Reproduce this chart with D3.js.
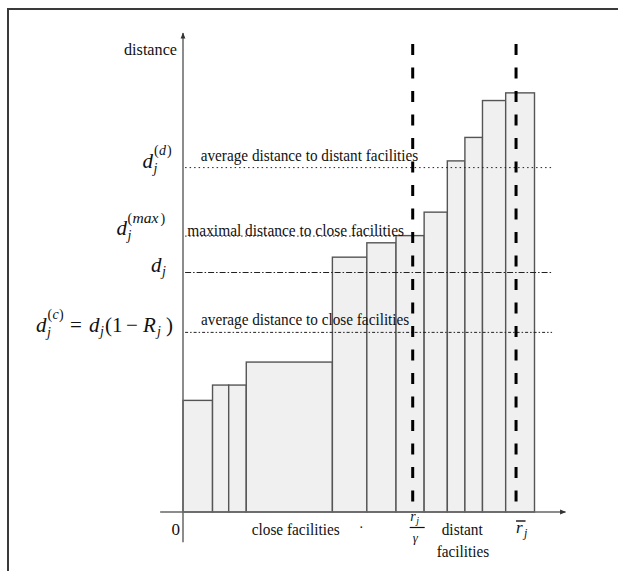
<!DOCTYPE html>
<html>
<head>
<meta charset="utf-8">
<script src="https://cdn.jsdelivr.net/npm/d3@7"></script>
<style>
  body { margin: 0; background: #fff; }
  svg { display: block; }
  text { font-family: "Liberation Serif", "Times New Roman", serif; fill: #111; }
  .it { font-style: italic; }
</style>
</head>
<body>
<div id="chart"></div>
<script>
// facility boundaries (x, share of facilities) and their distances (bar heights)
const barEdges = [0, 8.4, 13.0, 18.0, 42.5, 52.3, 60.6, 68.6, 75.2, 80.2, 85.2, 91.8, 100];
const barHeights = [23.3, 26.5, 26.5, 31.3, 53.2, 56.2, 57.7, 62.6, 73.3, 78.2, 85.9, 87.5];

// reference distance levels
const levelNames = ["dd", "dmax", "dj", "dc"];
const levelValues = [71.9, 57.6, 50.0, 37.5];
const levelEnds = [105, 60.6, 105, 105];      // x where each level line stops
const levelDash = ["1.5,3", "1.5,2.5", "6,2,1.5,2", "3,2,1.5,2"];
const levelTexts = ["average distance to distant facilities", "maximal distance to close facilities", "", "average distance to close facilities"];

// vertical thresholds r_j/gamma and r_j bar
const thresholds = [65.35, 94.75];

document.addEventListener('DOMContentLoaded', function(){

	const w = 618, h = 571;

	const xScale = d3.scaleLinear().domain([0, 100]).range([183, 534.5]);
	const yScale = d3.scaleLinear().domain([0, 100]).range([512, 33]);

	const svg = d3.select("#chart")
				  .append("svg")
				  .attr("width", w)
				  .attr("height", h);

	svg.append("defs").append("marker")
	   .attr("id", "arrow")
	   .attr("viewBox", "0 0 10 10")
	   .attr("refX", 9).attr("refY", 5)
	   .attr("markerWidth", 9).attr("markerHeight", 6)
	   .attr("markerUnits", "userSpaceOnUse")
	   .attr("orient", "auto")
	   .append("path")
	   .attr("d", "M0,1 L10,5 L0,9 Z")
	   .attr("fill", "#333");

	//frame
	svg.append("path")
	   .attr("d", "M8," + h + " L8,9 L" + w + ",9")
	   .attr("fill", "none")
	   .attr("stroke", "#3a3a3a")
	   .attr("stroke-width", 2);

	//bars
	svg.selectAll("rect.bar")
	   .data(barHeights)
	   .enter()
	   .append("rect")
	   .attr("class", "bar")
	   .attr("x", (d, i) => xScale(barEdges[i]))
	   .attr("y", (d) => yScale(d))
	   .attr("width", (d, i) => xScale(barEdges[i + 1]) - xScale(barEdges[i]))
	   .attr("height", (d) => yScale(0) - yScale(d))
	   .attr("fill", "#f0f0f0")
	   .attr("stroke", "#555")
	   .attr("stroke-width", 1.4);

	//axes
	svg.append("line")
	   .attr("x1", xScale(-6.5)).attr("x2", xScale(108.8))
	   .attr("y1", yScale(0)).attr("y2", yScale(0))
	   .attr("stroke", "#666").attr("stroke-width", 1.5)
	   .attr("marker-end", "url(#arrow)");

	svg.append("line")
	   .attr("x1", xScale(0)).attr("x2", xScale(0))
	   .attr("y1", yScale(-6.3)).attr("y2", yScale(100))
	   .attr("stroke", "#666").attr("stroke-width", 1.5)
	   .attr("marker-end", "url(#arrow)");

	//level lines
	svg.selectAll("line.level")
	   .data(levelValues)
	   .enter()
	   .append("line")
	   .attr("class", "level")
	   .attr("x1", xScale(0.6))
	   .attr("x2", (d, i) => xScale(levelEnds[i]))
	   .attr("y1", (d) => yScale(d))
	   .attr("y2", (d) => yScale(d))
	   .attr("stroke", "#222")
	   .attr("stroke-width", 1)
	   .attr("stroke-dasharray", (d, i) => levelDash[i]);

	//level texts
	const textPos = [[200.7, 160.7, 217.6], [187.3, 236, 216.7], null, [201, 325, 208.3]];
	const notes = d3.range(levelTexts.length).filter((i) => levelTexts[i] !== "");
	svg.selectAll("text.note")
	   .data(notes)
	   .enter()
	   .append("text")
	   .attr("class", "note")
	   .attr("x", (i) => textPos[i][0])
	   .attr("y", (i) => textPos[i][1])
	   .attr("font-size", 17)
	   .attr("textLength", (i) => textPos[i][2])
	   .attr("lengthAdjust", "spacingAndGlyphs")
	   .text((i) => levelTexts[i]);

	//dashed thresholds
	svg.selectAll("line.thr")
	   .data(thresholds)
	   .enter()
	   .append("line")
	   .attr("class", "thr")
	   .attr("x1", (d) => xScale(d)).attr("x2", (d) => xScale(d))
	   .attr("y1", 33).attr("y2", yScale(0))
	   .attr("stroke", "#000")
	   .attr("stroke-width", 3)
	   .attr("stroke-dasharray", "11,12.5")
	   .attr("stroke-dashoffset", 12.5);

	//left math labels
	function piece(g, str, x, y, size, italic, len) {
		const t = g.append("text")
		 .attr("x", x).attr("y", y)
		 .attr("font-size", size)
		 .attr("class", italic ? "it" : null)
		 .text(str);
		if (len) t.attr("textLength", len).attr("lengthAdjust", "spacingAndGlyphs");
	}

	let g = svg.append("g").attr("transform", "translate(142.5," + (yScale(levelValues[0]) + 0.6) + ")");
	piece(g, "d", 0, 0, 21, true);
	piece(g, "(", 11.5, -13, 14, false);
	piece(g, "d", 16.5, -13, 14, true);
	piece(g, ")", 24.5, -13, 14, false);
	piece(g, "j", 11, 5, 14, true);

	g = svg.append("g").attr("transform", "translate(116.5," + (yScale(levelValues[1]) - 1) + ")");
	piece(g, "d", 0, 0, 21, true);
	piece(g, "(", 11, -12, 14, false);
	piece(g, "max", 16, -12, 15, true, 26);
	piece(g, ")", 44, -12, 14, false);
	piece(g, "j", 11, 5, 14, true);

	g = svg.append("g").attr("transform", "translate(151," + (yScale(levelValues[2]) - 1) + ")");
	piece(g, "d", 0, 0, 21, true);
	piece(g, "j", 11, 4, 14, true);

	g = svg.append("g").attr("transform", "translate(36," + (yScale(levelValues[3]) - 0.6) + ")");
	piece(g, "d", 0, 0, 21, true);
	piece(g, "(", 11.5, -13, 14, false);
	piece(g, "c", 16.5, -13, 14, true);
	piece(g, ")", 23, -13, 14, false);
	piece(g, "j", 11, 5, 14, true);
	piece(g, "=", 34, 0, 21, false);
	piece(g, "d", 53, 0, 21, true);
	piece(g, "j", 64, 4, 14, true);
	piece(g, "(", 69, 0, 21, false);
	piece(g, "1", 76, 0, 21, false);
	piece(g, "\u2212", 90, 0, 21, false);
	piece(g, "R", 107, 0, 21, true);
	piece(g, "j", 121, 4, 14, true);
	piece(g, ")", 130, 0, 21, false);

	//axis label
	svg.append("text")
	   .attr("x", 124).attr("y", 55)
	   .attr("font-size", 17)
	   .attr("textLength", 53)
	   .attr("lengthAdjust", "spacingAndGlyphs")
	   .text("distance");

	//bottom labels
	svg.append("text").attr("x", 171.5).attr("y", 534.5).attr("font-size", 17).text("0");
	svg.append("text")
	   .attr("x", 251.7).attr("y", 535)
	   .attr("font-size", 17)
	   .attr("textLength", 88)
	   .attr("lengthAdjust", "spacingAndGlyphs")
	   .text("close facilities");
	svg.append("text").attr("x", 359.5).attr("y", 528).attr("font-size", 14).text(".");

	svg.append("text")
	   .attr("x", 441.7).attr("y", 535)
	   .attr("font-size", 17)
	   .attr("textLength", 41)
	   .attr("lengthAdjust", "spacingAndGlyphs")
	   .text("distant");
	svg.append("text")
	   .attr("x", 436.7).attr("y", 557)
	   .attr("font-size", 17)
	   .attr("textLength", 52.6)
	   .attr("lengthAdjust", "spacingAndGlyphs")
	   .text("facilities");

	// r_j / gamma
	const fx = xScale(thresholds[0]);
	g = svg.append("g").attr("transform", "translate(" + fx + ",0)");
	piece(g, "r", -2.5, 521, 14, true);
	piece(g, "j", 3.5, 524, 10, true);
	g.append("line").attr("x1", -3).attr("x2", 12).attr("y1", 527.5).attr("y2", 527.5)
	 .attr("stroke", "#111").attr("stroke-width", 1.2);
	piece(g, "\u03b3", 0, 542, 13, true);

	// r bar j
	const rx = xScale(thresholds[1]);
	g = svg.append("g").attr("transform", "translate(" + rx + ",0)");
	g.append("line").attr("x1", 0).attr("x2", 9.5).attr("y1", 521).attr("y2", 521)
	 .attr("stroke", "#111").attr("stroke-width", 1.4);
	piece(g, "r", 0, 533, 17, true);
	piece(g, "j", 8, 537, 12, true);
});
</script>
</body>
</html>
